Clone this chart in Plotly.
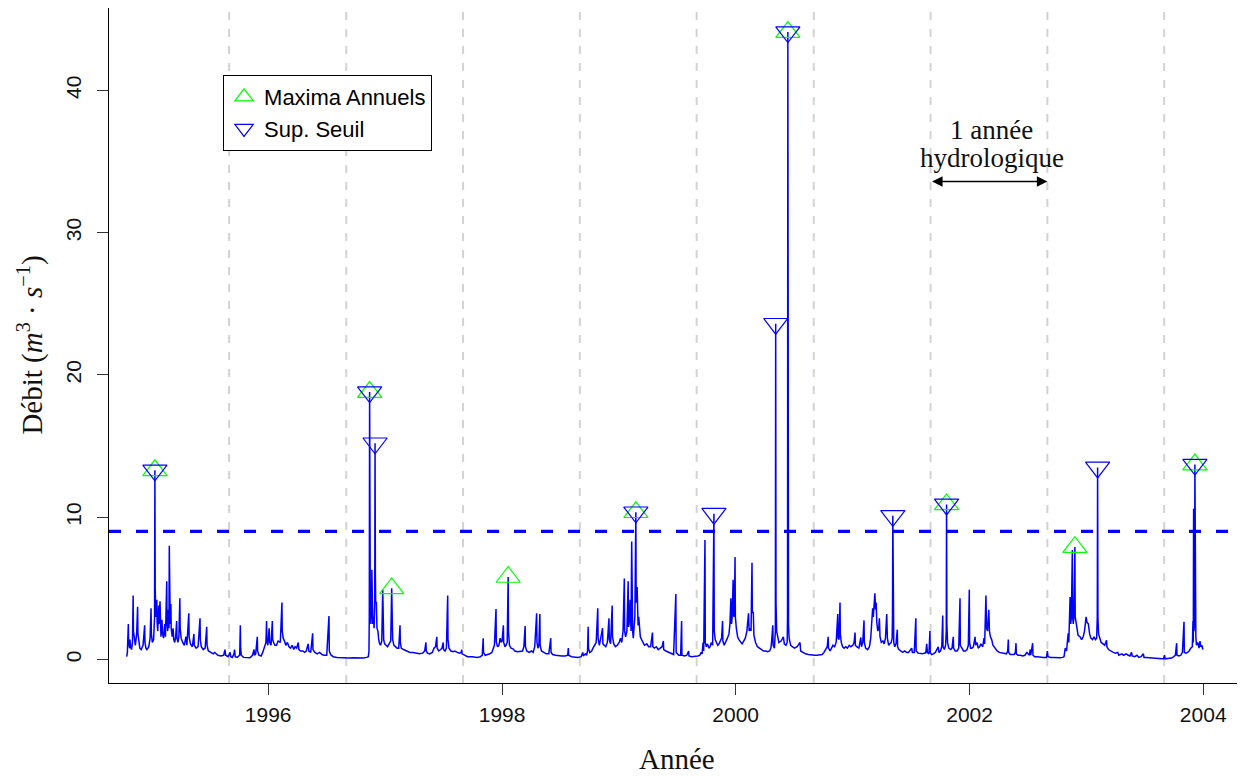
import pandas as pd
import plotly.graph_objects as go

# ---------------- data ----------------
DEBUT = pd.Timestamp("1994-10-01")          # day 0 of the record
SEUIL = 9.0                                 # threshold (m3/s)

# daily discharge, (days since DEBUT, flow m3/s), per hydrological year
hy_1994 = [(15,0.2),(17,0.5),(20,2.5),(21,1.2),(24,0.8),(25,1.4),(27,0.9),(30,0.7),(33,1.2),(35,4.5),(36,2.0),(39,1.3),(42,1.0),(46,1.8),(49,3.7),(50,1.8),(53,1.0),(56,0.8),(60,0.7),(66,1.0),(71,2.4),(72,1.2),(75,0.8),(78,0.7),(84,0.9),(88,1.5),(91,3.6),(92,1.8),(95,1.2),(99,1.4),(102,3.0),(103,13.3),(104,5.0),(106,3.0),(109,4.2),(110,2.6),(112,2.0),(115,3.8),(116,2.5),(119,4.1),(120,2.2),(122,1.6),(125,2.8),(127,1.8),(130,1.5),(134,2.5),(136,1.6),(140,5.5),(141,2.6),(143,2.0),(145,3.5),(147,2.2),(148,8.0),(149,3.2),(151,2.5),(153,3.9),(154,2.2),(157,1.6),(160,2.2),(162,1.4),(165,1.2),(168,1.6),(171,2.7),(172,1.5),(175,1.2),(178,1.6),(181,4.3),(182,2.2),(185,1.5),(190,1.2),(195,1.0),(200,1.6),(203,1.0),(209,3.25),(210,1.6),(214,1.1),(220,0.9),(225,1.8),(226,1.0),(232,0.8),(238,0.9),(244,2.9),(245,1.4),(248,0.9),(254,0.7),(260,0.8),(265,2.3),(266,1.0),(270,0.6),(278,0.5),(285,0.4),(290,0.5),(296,0.35),(300,0.3),(310,0.25),(318,0.3),(322,0.7),(324,0.3),(332,0.2)]
hy_1995 = [(338,0.5),(340,0.2),(345,0.15),(350,0.4),(352,0.7),(354,0.2),(360,0.15),(368,0.3),(370,2.4),(371,0.8),(373,0.3),(380,0.15),(390,0.15),(400,0.12),(408,0.3),(413,0.7),(414,0.3),(418,0.4),(423,1.6),(424,0.6),(428,0.3),(435,0.25),(440,0.5),(445,0.9),(450,1.2),(452,2.7),(453,1.3),(456,1.0),(460,2.2),(462,1.2),(466,1.0),(470,2.7),(471,1.4),(474,1.2),(478,1.0),(483,1.0),(488,1.3),(495,1.2),(500,4.0),(501,2.0),(504,1.5),(508,1.3),(512,1.0),(517,1.2),(522,0.9),(527,0.8),(532,1.0),(537,0.7),(541,0.9),(546,0.8),(551,1.2),(553,0.7),(558,0.6),(565,0.6),(571,0.5),(576,0.6),(582,1.1),(584,0.6),(590,0.5),(596,1.85),(597,0.7),(603,0.5),(610,0.4),(618,0.5),(625,0.35),(632,0.3),(640,0.3),(647,3.06),(648,0.6),(652,0.35),(660,0.2),(672,0.15),(685,0.12),(700,0.1)]
hy_1996 = [(710,0.1),(725,0.12),(740,0.1),(755,0.1),(765,0.15),(770,0.2),(772,0.6),(773,3.0),(774,18.8),(775,5.0),(776,4.3),(778,2.5),(780,3.5),(781,6.3),(782,3.5),(784,2.5),(786,3.0),(788,2.2),(790,4.0),(791,15.2),(792,6.0),(793,4.0),(795,4.0),(797,2.2),(800,2.0),(802,1.5),(804,1.2),(808,1.0),(812,1.3),(815,4.9),(816,2.2),(818,1.4),(821,1.1),(825,1.0),(830,0.9),(835,1.1),(840,1.3),(843,5.0),(844,2.5),(846,1.4),(850,1.0),(855,0.9),(860,0.8),(865,0.8),(869,2.4),(870,1.2),(873,0.8),(880,0.7),(890,0.6),(900,0.5),(910,0.5),(920,0.45),(930,0.4),(940,0.45),(946,0.6),(950,1.2),(951,0.6),(955,0.45),(962,0.4),(970,0.5),(975,0.8),(980,0.9),(984,1.6),(985,0.8),(990,0.6),(996,0.7),(1000,0.8),(1004,1.2),(1005,0.7),(1010,0.6),(1014,0.8),(1018,4.5),(1019,1.4),(1022,0.8),(1028,0.6),(1035,0.55),(1040,0.6),(1048,0.5),(1055,0.45),(1060,0.5),(1062,0.7),(1063,0.4)]
hy_1997 = [(1070,0.3),(1080,0.2),(1095,0.2),(1110,0.15),(1120,0.2),(1126,0.3),(1129,1.5),(1130,0.5),(1135,0.3),(1142,0.35),(1150,0.4),(1156,0.5),(1160,0.8),(1164,1.0),(1169,3.55),(1170,1.2),(1174,0.9),(1178,1.0),(1182,1.5),(1185,1.2),(1188,1.3),(1192,2.4),(1193,1.2),(1197,0.9),(1200,1.0),(1204,1.2),(1207,5.8),(1208,2.0),(1211,1.0),(1216,0.8),(1222,0.75),(1228,0.6),(1236,0.55),(1244,0.6),(1252,0.6),(1256,0.9),(1260,2.35),(1261,0.9),(1265,0.6),(1272,0.5),(1280,0.6),(1285,0.5),(1290,0.9),(1296,3.25),(1297,1.2),(1300,0.8),(1303,1.0),(1306,3.2),(1307,1.0),(1311,0.6),(1318,0.5),(1326,0.4),(1334,0.4),(1340,1.5),(1341,0.5),(1346,0.35),(1355,0.3),(1365,0.25),(1375,0.25),(1385,0.25),(1393,0.3),(1395,0.8),(1396,0.3),(1405,0.2),(1415,0.15),(1425,0.15)]
hy_1998 = [(1435,0.2),(1440,0.5),(1442,0.25),(1448,0.4),(1452,0.3),(1455,0.6),(1457,2.3),(1458,0.8),(1462,0.5),(1468,0.6),(1472,0.8),(1478,1.0),(1482,1.2),(1487,3.6),(1488,1.5),(1492,1.0),(1495,1.3),(1498,1.6),(1502,2.2),(1503,1.1),(1507,1.0),(1512,0.9),(1517,1.2),(1522,2.9),(1523,1.4),(1527,1.1),(1532,3.8),(1533,1.6),(1537,1.1),(1542,0.9),(1548,1.0),(1554,1.2),(1558,1.5),(1562,1.2),(1566,2.0),(1570,5.7),(1571,2.0),(1574,1.6),(1578,2.0),(1582,5.5),(1583,2.3),(1585,2.5),(1588,4.2),(1589,2.2),(1591,2.0),(1593,8.3),(1594,2.8),(1596,2.0),(1598,1.5),(1601,2.2),(1603,3.0),(1606,10.35),(1607,4.0),(1609,4.2),(1610,5.1),(1611,3.2),(1613,2.4),(1615,3.0),(1617,2.0),(1620,1.6),(1624,1.4),(1628,1.2),(1633,1.0),(1640,1.1),(1646,0.9),(1652,0.9),(1658,1.9),(1659,0.9),(1664,0.8),(1670,0.9),(1676,0.7),(1682,0.8),(1688,0.9),(1692,1.3),(1693,0.7),(1700,0.6),(1708,0.5),(1716,0.4),(1724,0.35),(1731,4.6),(1732,0.5),(1740,0.3),(1746,0.3),(1749,2.7),(1750,0.3),(1758,0.25),(1765,0.3),(1771,0.6),(1772,0.25),(1780,0.2),(1790,0.2)]
hy_1999 = [(1800,0.25),(1806,0.3),(1810,0.5),(1813,0.4),(1816,1.2),(1818,0.6),(1822,8.4),(1823,1.2),(1826,0.9),(1830,1.1),(1834,0.8),(1838,0.9),(1842,1.2),(1846,1.0),(1850,10.25),(1851,2.0),(1854,1.4),(1858,1.2),(1862,1.0),(1866,1.1),(1870,1.3),(1874,1.5),(1877,2.7),(1878,1.3),(1882,1.0),(1887,1.2),(1892,1.5),(1897,1.8),(1900,2.5),(1903,4.3),(1905,2.5),(1907,3.0),(1910,5.6),(1912,3.0),(1914,3.5),(1916,7.2),(1917,3.0),(1920,2.2),(1924,1.6),(1928,1.4),(1933,1.2),(1938,1.1),(1943,1.3),(1948,1.5),(1953,2.0),(1955,2.5),(1958,3.25),(1960,2.0),(1963,2.2),(1966,2.0),(1969,6.8),(1970,3.3),(1973,3.3),(1975,1.7),(1980,1.2),(1986,0.9),(1992,0.8),(1998,0.7),(2005,0.6),(2012,0.6),(2018,0.55),(2024,0.6),(2028,0.8),(2030,1.2),(2034,2.4),(2035,1.0),(2039,0.8),(2042,2.0),(2043,23.6),(2044,4.0),(2046,2.0),(2049,1.5),(2053,1.2),(2060,1.3),(2067,1.6),(2070,1.1),(2075,1.0),(2079,1.2),(2080,3.0),(2081,44.1),(2082,6.0),(2083,2.5),(2085,1.5),(2090,1.0),(2095,0.9),(2102,0.8),(2110,0.9),(2119,1.2),(2121,0.6),(2128,0.5),(2136,0.4),(2145,0.35),(2155,0.3)]
hy_2000 = [(2165,0.3),(2172,0.3),(2180,0.3),(2188,0.35),(2194,0.5),(2200,0.8),(2204,0.9),(2207,1.6),(2208,0.8),(2213,0.6),(2218,0.8),(2222,1.0),(2227,0.9),(2232,1.2),(2237,3.2),(2238,1.5),(2241,1.4),(2244,4.0),(2245,1.8),(2248,1.2),(2252,0.9),(2257,0.8),(2262,0.9),(2267,0.8),(2273,1.0),(2278,0.9),(2284,1.0),(2288,1.2),(2291,1.9),(2292,1.0),(2296,0.9),(2303,0.8),(2309,1.55),(2311,0.9),(2315,1.2),(2319,2.75),(2320,1.2),(2324,0.8),(2330,0.7),(2336,0.9),(2340,1.5),(2343,2.5),(2346,3.6),(2348,3.0),(2350,3.5),(2353,4.65),(2355,3.5),(2357,4.0),(2359,2.6),(2362,2.0),(2365,2.2),(2367,2.9),(2369,1.6),(2373,1.2),(2378,1.3),(2382,1.1),(2386,1.5),(2390,3.2),(2392,1.5),(2396,1.0),(2400,1.1),(2404,1.2),(2407,1.5),(2408,3.0),(2409,10.1),(2410,2.5),(2412,1.2),(2415,0.9),(2419,1.1),(2423,2.1),(2424,0.9),(2428,0.7),(2434,0.6),(2440,0.5),(2446,0.6),(2452,0.5),(2458,0.5),(2462,0.6),(2468,0.8),(2470,0.5),(2476,0.5),(2481,2.9),(2482,0.6),(2488,0.45),(2495,0.4),(2502,0.4),(2508,0.45),(2512,0.45),(2515,1.1),(2517,0.5),(2522,0.4),(2525,2.0),(2526,0.5)]
hy_2001 = [(2530,0.35),(2536,0.4),(2542,0.5),(2551,0.9),(2553,0.5),(2558,0.6),(2562,0.9),(2565,3.1),(2566,0.9),(2570,0.7),(2574,1.0),(2576,2.0),(2577,10.9),(2578,2.5),(2580,1.2),(2584,0.8),(2590,0.7),(2594,0.8),(2598,1.6),(2599,0.8),(2604,0.6),(2610,0.6),(2615,0.8),(2619,4.3),(2620,1.0),(2624,0.8),(2630,0.6),(2636,0.6),(2641,0.7),(2645,1.0),(2648,4.9),(2649,1.2),(2652,0.8),(2656,0.8),(2661,0.9),(2666,1.6),(2668,1.0),(2672,1.2),(2676,0.8),(2680,0.9),(2684,1.1),(2690,0.9),(2694,1.5),(2696,1.1),(2700,4.5),(2702,2.2),(2705,2.0),(2709,3.5),(2711,2.0),(2714,1.6),(2718,1.4),(2722,1.0),(2728,0.8),(2735,0.6),(2742,0.5),(2750,0.45),(2758,0.4),(2764,0.4),(2768,0.6),(2770,1.4),(2771,0.5),(2776,0.35),(2782,0.35),(2788,0.35),(2792,0.5),(2794,1.15),(2795,0.4),(2800,0.3),(2808,0.3),(2815,0.25),(2822,0.3),(2828,0.5),(2836,0.3),(2838,0.7),(2840,0.3),(2846,1.15),(2847,0.3),(2852,0.2),(2860,0.2),(2870,0.15),(2880,0.15),(2889,0.15)]
hy_2002 = [(2892,0.6),(2894,0.2),(2902,0.15),(2912,0.15),(2922,0.12),(2932,0.12),(2940,0.15),(2944,0.2),(2948,0.8),(2952,0.6),(2957,1.85),(2959,1.2),(2963,4.4),(2965,2.5),(2967,3.0),(2970,7.7),(2971,3.0),(2973,2.5),(2975,3.0),(2978,7.9),(2979,3.0),(2981,2.5),(2984,2.3),(2988,1.7),(2994,1.6),(2999,1.4),(3004,1.6),(3008,2.0),(3013,3.0),(3016,2.6),(3020,2.5),(3024,1.8),(3028,1.5),(3033,1.4),(3038,1.6),(3042,1.4),(3046,1.5),(3048,3.0),(3049,13.5),(3050,3.0),(3052,1.8),(3056,1.4),(3060,1.2),(3066,1.1),(3071,1.0),(3077,1.35),(3078,0.9),(3083,0.7),(3090,0.6),(3098,0.5),(3105,0.45),(3112,0.5),(3115,0.3),(3120,0.35),(3125,0.4),(3130,0.3),(3138,0.4),(3145,0.3),(3150,0.25),(3155,0.5),(3157,0.25),(3165,0.2),(3172,0.3),(3178,0.15),(3185,0.2),(3192,0.4),(3194,0.15),(3200,0.15),(3210,0.12),(3220,0.1),(3230,0.08),(3240,0.08),(3250,0.05)]
hy_2003 = [(3255,0.05),(3258,0.3),(3260,0.05),(3270,0.08),(3280,0.1),(3287,0.2),(3292,0.3),(3296,1.15),(3297,0.3),(3303,0.25),(3309,0.3),(3314,0.5),(3319,2.65),(3320,0.5),(3325,0.45),(3330,0.5),(3335,0.6),(3340,0.8),(3345,0.9),(3347,2.7),(3348,1.2),(3349,10.6),(3350,2.0),(3352,2.5),(3353,13.7),(3354,3.0),(3356,1.6),(3358,1.0),(3362,1.2),(3366,0.8),(3369,1.3),(3371,0.9),(3375,1.0),(3378,0.7)]

# marked events (days since DEBUT)
jours_maxima_annuels = [103, 774, 843, 1207, 1606, 2081, 2577, 2978, 3353]
jours_sup_seuil = [103, 774, 791, 1606, 1850, 2043, 2081, 2409, 2577, 3049, 3353]

# starts of hydrological years (vertical dashed lines)
debut_annee_hydro = ["1995-09-01", "1996-09-01", "1997-09-01", "1998-09-01", "1999-09-01",
                     "2000-09-01", "2001-09-01", "2002-09-01", "2003-09-01"]

# axis ticks
x_ticks = ["1996-01-01", "1998-01-01", "2000-01-01", "2002-01-01", "2004-01-01"]
x_ticktext = ["1996", "1998", "2000", "2002", "2004"]
y_ticks = [0, 10, 20, 30, 40]

# annotation: one hydrological year
fleche_debut, fleche_fin, fleche_y = "2001-09-01", "2002-09-01", 33.6

# ---------------- build ----------------
serie = hy_1994 + hy_1995 + hy_1996 + hy_1997 + hy_1998 + hy_1999 + hy_2000 + hy_2001 + hy_2002 + hy_2003
debit_par_jour = dict(serie)
dates = [DEBUT + pd.Timedelta(days=d) for d, _ in serie]
debits = [q for _, q in serie]

def to_dates(jours):
    return [DEBUT + pd.Timedelta(days=d) for d in jours]

BLUE = "#0000FF"
GREEN = "#00FF00"
SANS = "Liberation Sans, Arial, sans-serif"
SERIF = "Liberation Serif, Times New Roman, serif"

fig = go.Figure()
fig.add_trace(go.Scatter(x=dates, y=debits, mode="lines", line=dict(color=BLUE, width=1.5),
                         showlegend=False, hoverinfo="skip"))
fig.add_trace(go.Scatter(x=to_dates(jours_maxima_annuels),
                         y=[debit_par_jour[d] for d in jours_maxima_annuels],
                         mode="markers", name="Maxima Annuels",
                         marker=dict(symbol="triangle-up-open", size=21, color=GREEN,
                                     line=dict(color=GREEN, width=1.2))))
fig.add_trace(go.Scatter(x=to_dates(jours_sup_seuil),
                         y=[debit_par_jour[d] for d in jours_sup_seuil],
                         mode="markers", name="Sup. Seuil",
                         marker=dict(symbol="triangle-down-open", size=21, color=BLUE,
                                     line=dict(color=BLUE, width=1.2))))

for d in debut_annee_hydro:
    fig.add_shape(type="line", xref="x", yref="paper", x0=d, x1=d, y0=0, y1=1,
                  line=dict(color="#D3D3D3", width=2, dash="8px,9px"), layer="below")

fig.add_shape(type="line", xref="paper", yref="y", x0=0, x1=1, y0=SEUIL, y1=SEUIL,
              line=dict(color=BLUE, width=3.3, dash="12px,15px"), layer="above")

fig.add_annotation(x=fleche_fin, y=fleche_y, ax=fleche_debut, ay=fleche_y,
                   xref="x", yref="y", axref="x", ayref="y", text="",
                   showarrow=True, arrowside="end+start", arrowhead=2, startarrowhead=2,
                   arrowsize=1.4, startarrowsize=1.4, arrowwidth=1.5, arrowcolor="black",
                   standoff=0, startstandoff=0)
milieu = pd.Timestamp(fleche_debut) + (pd.Timestamp(fleche_fin) - pd.Timestamp(fleche_debut)) / 2
fig.add_annotation(x=milieu, y=37.2, xref="x", yref="y", text="1 année", showarrow=False,
                   xshift=3, font=dict(family=SERIF, size=27, color="#111"))
fig.add_annotation(x=milieu, y=35.25, xref="x", yref="y", text="hydrologique", showarrow=False,
                   xshift=3, font=dict(family=SERIF, size=27, color="#111"))

# axis titles (kept inside the figure area)
fig.add_annotation(x=0.5, y=-0.139, xref="paper", yref="paper", text="Année", showarrow=False,
                   xanchor="center", yanchor="bottom", font=dict(family=SERIF, size=29, color="#111"))
fig.add_annotation(x=-0.0875, y=0.5, xref="paper", yref="paper", textangle=-90,
                   text="Débit (<i>m</i><sup>3</sup> · <i>s</i><sup>−1</sup>)", showarrow=False,
                   xanchor="left", yanchor="middle", font=dict(family=SERIF, size=29, color="#111"))

x_range = [DEBUT + pd.Timedelta(days=-40.4), DEBUT + pd.Timedelta(days=3509.6)]

# the page body has an 8px margin: the figure is sized to fit the 1245x777 window
fig.update_layout(
    width=1237, height=769, autosize=False,
    margin=dict(l=101, r=0, t=0, b=94),
    paper_bgcolor="white", plot_bgcolor="white",
    showlegend=True,
    legend=dict(x=0.1004, y=0.9007, xanchor="left", yanchor="top",
                bordercolor="black", borderwidth=1, bgcolor="white",
                font=dict(family=SANS, size=22, color="black"), tracegroupgap=0,
                itemsizing="trace"),
    xaxis=dict(type="date", range=x_range, showline=True, linecolor="black", linewidth=1,
               mirror=True, ticks="outside", ticklen=11, tickwidth=1, tickcolor="#333",
               tickvals=x_ticks, ticktext=x_ticktext, showgrid=False, zeroline=False,
               tickfont=dict(family=SANS, size=21, color="#111"), ticklabelstandoff=2),
    yaxis=dict(range=[-1.65, 45.79], showline=True, linecolor="black", linewidth=1,
               mirror=False, ticks="outside", ticklen=11, tickwidth=1, tickcolor="#333",
               tickvals=y_ticks, tickangle=-90, showgrid=False, zeroline=False,
               tickfont=dict(family=SANS, size=21, color="#111"), ticklabelstandoff=8),
)

fig.write_html("out.html")
